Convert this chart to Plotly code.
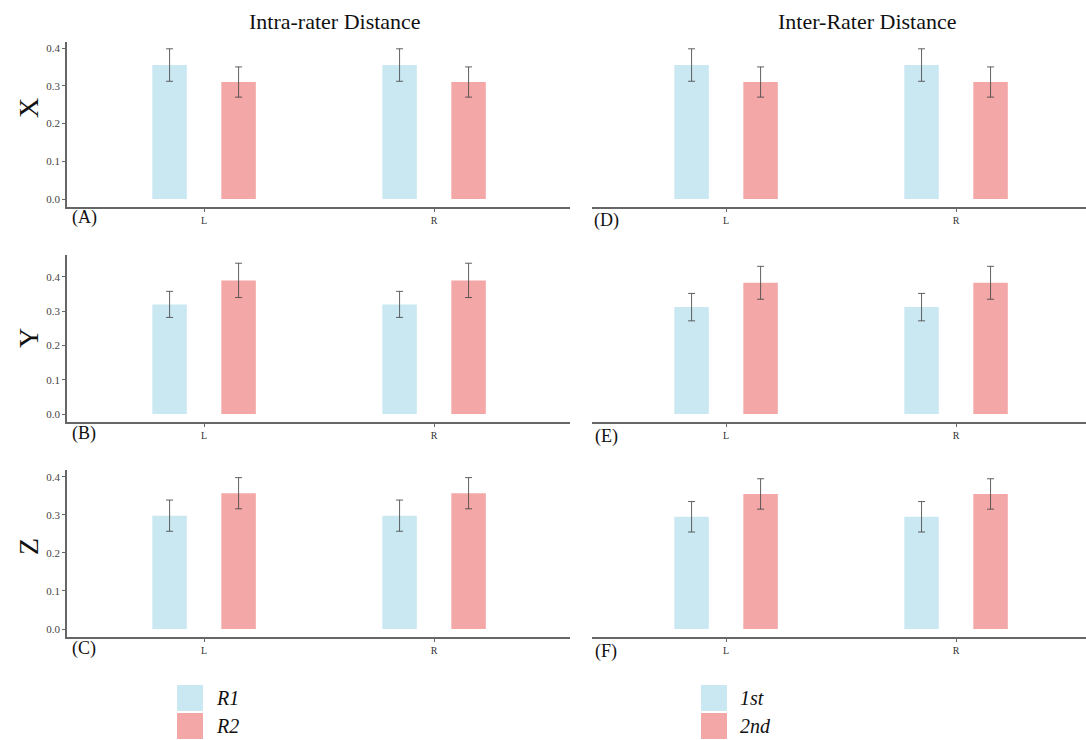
import plotly.graph_objects as go
from plotly.subplots import make_subplots

categories = ["L", "R"]
row_names = ["X", "Y", "Z"]
col_titles = ["Intra-rater Distance", "Inter-Rater Distance"]
panel_tags = [["(A)", "(D)"], ["(B)", "(E)"], ["(C)", "(F)"]]

# Intra-rater (R1 vs R2)
intra_r1_x = [0.355, 0.355]
intra_r2_x = [0.310, 0.310]
intra_r1_y = [0.320, 0.320]
intra_r2_y = [0.390, 0.390]
intra_r1_z = [0.298, 0.298]
intra_r2_z = [0.357, 0.357]
intra_r1_x_err = [0.043, 0.043]
intra_r2_x_err = [0.040, 0.040]
intra_r1_y_err = [0.038, 0.038]
intra_r2_y_err = [0.050, 0.050]
intra_r1_z_err = [0.041, 0.041]
intra_r2_z_err = [0.041, 0.041]

# Inter-rater (1st vs 2nd)
inter_1st_x = [0.355, 0.355]
inter_2nd_x = [0.310, 0.310]
inter_1st_y = [0.312, 0.312]
inter_2nd_y = [0.383, 0.383]
inter_1st_z = [0.295, 0.295]
inter_2nd_z = [0.355, 0.355]
inter_1st_x_err = [0.043, 0.043]
inter_2nd_x_err = [0.040, 0.040]
inter_1st_y_err = [0.040, 0.040]
inter_2nd_y_err = [0.048, 0.048]
inter_1st_z_err = [0.040, 0.040]
inter_2nd_z_err = [0.040, 0.040]

legend_left = ["R1", "R2"]
legend_right = ["1st", "2nd"]

BLUE = "rgb(202,232,242)"
RED = "rgb(243,167,167)"
ERR = "rgba(70,70,70,0.85)"
SERIF = "Liberation Serif, Times New Roman, serif"

data = [
    [(intra_r1_x, intra_r1_x_err, intra_r2_x, intra_r2_x_err),
     (inter_1st_x, inter_1st_x_err, inter_2nd_x, inter_2nd_x_err)],
    [(intra_r1_y, intra_r1_y_err, intra_r2_y, intra_r2_y_err),
     (inter_1st_y, inter_1st_y_err, inter_2nd_y, inter_2nd_y_err)],
    [(intra_r1_z, intra_r1_z_err, intra_r2_z, intra_r2_z_err),
     (inter_1st_z, inter_1st_z_err, inter_2nd_z, inter_2nd_z_err)],
]

fig = make_subplots(rows=3, cols=2)

W, H = 1086, 740
col_dom = [(67 / W, 570 / W), (592 / W, 1.0)]
row_dom = [(1 - 207 / H, 1 - 42 / H), (1 - 422 / H, 1 - 255 / H), (1 - 637 / H, 1 - 470 / H)]
y_ranges = [[-0.021, 0.416], [-0.023, 0.464], [-0.021, 0.418]]
x_ranges = [[-0.596, 1.591], [-0.583, 1.565]]

for r in range(3):
    for c in range(2):
        a, ea, b, eb = data[r][c]
        names = legend_left if c == 0 else legend_right
        for vals, errs, col, nm in ((a, ea, BLUE, names[0]), (b, eb, RED, names[1])):
            fig.add_trace(go.Bar(
                x=categories, y=vals, name=nm, marker=dict(color=col, line=dict(width=0)),
                error_y=dict(type="data", array=errs, color=ERR, thickness=1, width=3.5),
                showlegend=False,
            ), row=r + 1, col=c + 1)
        fig.update_xaxes(domain=col_dom[c], range=x_ranges[c], type="category",
                         showline=True, linecolor="#666", linewidth=1.5,
                         ticks="outside", ticklen=3, tickcolor="#666",
                         tickfont=dict(family=SERIF, size=10, color="#333"),
                         showgrid=False, zeroline=False, row=r + 1, col=c + 1)
        fig.update_yaxes(domain=row_dom[r], range=y_ranges[r],
                         showline=(c == 0), linecolor="#666", linewidth=1.5,
                         ticks="outside" if c == 0 else "", ticklen=3, tickcolor="#666",
                         showticklabels=(c == 0), tickvals=[0, 0.1, 0.2, 0.3, 0.4],
                         tickformat=".1f",
                         tickfont=dict(family=SERIF, size=11, color="#444"),
                         showgrid=False, zeroline=False, row=r + 1, col=c + 1)

annotations = []
# column titles
for txt, xc in zip(col_titles, [335, 867]):
    annotations.append(dict(text=txt, x=xc / W, y=1 - 21 / H, xref="paper", yref="paper",
                            xanchor="center", yanchor="middle",
                            showarrow=False, font=dict(family=SERIF, size=22, color="#111")))
# row labels
for txt, yc in zip(row_names, [108, 338, 547]):
    annotations.append(dict(text=txt, x=28 / W, y=1 - yc / H, xref="paper", yref="paper",
                            xanchor="center", yanchor="middle",
                            textangle=-90, showarrow=False,
                            font=dict(family=SERIF, size=28, color="#111")))
# panel tags
tag_y = [217, 433, 648]
tag_x = [84, 606]
for r in range(3):
    for c in range(2):
        annotations.append(dict(text=panel_tags[r][c], x=tag_x[c] / W,
                                y=1 - (tag_y[r] + (3 if c == 1 else 0)) / H,
                                xref="paper", yref="paper", xanchor="center", yanchor="middle",
                                showarrow=False, font=dict(family=SERIF, size=18, color="#111")))

# legends
shapes = []
legend_x = [177, 701]
for lx, labels in zip(legend_x, [legend_left, legend_right]):
    for i, (lab, col) in enumerate(zip(labels, [BLUE, RED])):
        y0 = 685 + i * 28
        shapes.append(dict(type="rect", xref="paper", yref="paper",
                           x0=lx / W, x1=(lx + 26) / W, y0=1 - (y0 + 26) / H, y1=1 - y0 / H,
                           fillcolor=col, line=dict(width=0)))
        annotations.append(dict(text="<i>" + lab + "</i>", x=(lx + 37) / W, y=1 - (y0 + 13) / H,
                                xref="paper", yref="paper", xanchor="left", yanchor="middle",
                                showarrow=False,
                                font=dict(family=SERIF, size=20, color="#111")))

fig.update_layout(
    width=W, height=H, margin=dict(l=0, r=0, t=0, b=0),
    paper_bgcolor="white", plot_bgcolor="white",
    barmode="group", bargap=0.4, bargroupgap=0.5,
    annotations=annotations, shapes=shapes, showlegend=False,
)

fig.write_html("out.html", config={"displayModeBar": False},
               post_script="document.body.style.margin='0px';")
